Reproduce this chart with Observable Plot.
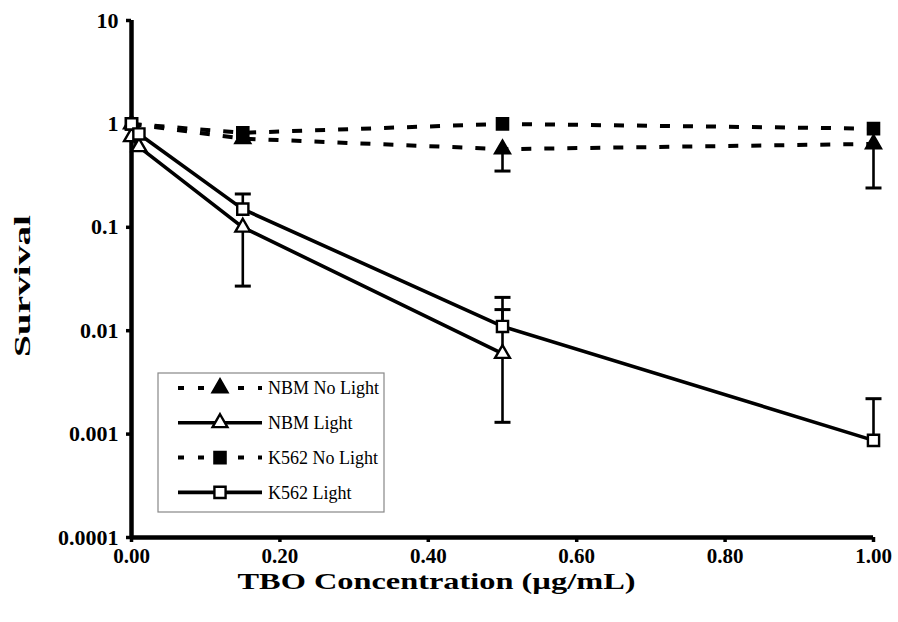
<!DOCTYPE html>
<html><head><meta charset="utf-8">
<script src="https://cdn.jsdelivr.net/npm/d3@7"></script>
<script src="https://cdn.jsdelivr.net/npm/@observablehq/plot@0.6"></script>
<style>body{margin:0;background:#fff} svg{font-family:"Liberation Serif","Times New Roman",serif}</style>
</head><body><div id="chart"></div>
<script>
const xTicks = [0, 0.2, 0.4, 0.6, 0.8, 1.0];
const xTickLabels = ["0.00", "0.20", "0.40", "0.60", "0.80", "1.00"];
const yTicks = [0.0001, 0.001, 0.01, 0.1, 1, 10];
const yTickLabels = ["0.0001", "0.001", "0.01", "0.1", "1", "10"];
const xTitle = "TBO Concentration (\u00b5g/mL)";
const yTitle = "Survival";

const seriesNames = ["NBM No Light", "NBM Light", "K562 No Light", "K562 Light"];
const nbmNoLightX = [0, 0.15, 0.5, 1.0];
const nbmNoLightY = [1.0, 0.72, 0.57, 0.64];
const nbmLightX = [0, 0.01, 0.15, 0.5];
const nbmLightY = [0.75, 0.6, 0.1, 0.006];
const k562NoLightX = [0, 0.15, 0.5, 1.0];
const k562NoLightY = [1.0, 0.82, 1.0, 0.9];
const k562LightX = [0, 0.01, 0.15, 0.5, 1.0];
const k562LightY = [1.0, 0.8, 0.15, 0.011, 0.00087];

// error bars: series, x, point value, end value
const errSeries = ["K562 Light", "NBM Light", "K562 Light", "NBM Light", "NBM Light", "K562 Light", "NBM No Light", "NBM No Light"];
const errX      = [0.15, 0.15, 0.5, 0.5, 0.5, 1.0, 0.5, 1.0];
const errFrom   = [0.15, 0.1, 0.011, 0.006, 0.006, 0.00087, 0.57, 0.64];
const errTo     = [0.21, 0.027, 0.021, 0.016, 0.0013, 0.0022, 0.35, 0.24];

const seriesX = [nbmNoLightX, nbmLightX, k562NoLightX, k562LightX];
const seriesY = [nbmNoLightY, nbmLightY, k562NoLightY, k562LightY];
const seriesDashed = [true, false, true, false];
const seriesSymbol = ["triangle", "triangle", "square", "square"];
const seriesFill = ["black", "white", "black", "white"];
const seriesR = [5.5, 5.5, 6.3, 6.3];

const rows = seriesNames.flatMap((s, i) => seriesX[i].map((x, j) => ({series: s, x, y: seriesY[i][j], idx: i})));
const errs = errSeries.map((s, i) => ({series: s, x: errX[i], from: errFrom[i], to: errTo[i]}));

const cap = {draw(ctx, size) { const r = Math.sqrt(size / Math.PI); ctx.moveTo(-r, 0); ctx.lineTo(r, 0); }};

const marks = [];
seriesNames.forEach((s, i) => {
  marks.push(Plot.line(rows.filter(d => d.series === s), {
    x: "x", y: "y", stroke: "black", strokeWidth: seriesDashed[i] ? 4 : 3.6,
    strokeDasharray: seriesDashed[i] ? "10,13" : null, strokeLinecap: "butt"
  }));
});
marks.push(Plot.ruleX(errs, {x: "x", y1: "from", y2: "to", stroke: "black", strokeWidth: 2.6}));
marks.push(Plot.dot(errs, {x: "x", y: "to", symbol: cap, r: 8, stroke: "black", strokeWidth: 3, fill: "none"}));
marks.push(Plot.ruleX([0], {y1: 0.0001, y2: 10, stroke: "black", strokeWidth: 4.5}));
marks.push(Plot.ruleY([0.0001], {x1: 0, x2: 1, stroke: "black", strokeWidth: 4.5}));
marks.push(Plot.axisY({ticks: yTicks, tickFormat: (d) => yTickLabels[yTicks.indexOf(d)], tickSize: 5, tickPadding: 8, strokeWidth: 3.5, fontSize: 22, fontWeight: "bold", label: null}));
marks.push(Plot.axisX({ticks: xTicks, tickFormat: (d) => xTickLabels[xTicks.indexOf(d)], tickSize: 5, tickPadding: 6, strokeWidth: 3.5, fontSize: 21, fontWeight: "bold", label: null}));
seriesNames.forEach((s, i) => {
  marks.push(Plot.dot(rows.filter(d => d.series === s), {
    x: "x", y: "y", symbol: seriesSymbol[i], r: seriesR[i], fill: seriesFill[i], stroke: "black", strokeWidth: 2.4
  }));
});
marks.push(Plot.text([xTitle], {frameAnchor: "bottom", dx: -66, dy: 44, fontSize: 24, fontWeight: "bold", lineAnchor: "middle", className: "xtitle"}));
marks.push(Plot.text([yTitle], {frameAnchor: "left", textAnchor: "middle", dx: -109, dy: 7, rotate: -90, fontSize: 24, fontWeight: "bold", lineAnchor: "middle", className: "ytitle"}));

const chart = Plot.plot({
  width: 898, height: 622,
  marginLeft: 131, marginRight: 25, marginTop: 20, marginBottom: 85,
  x: {domain: [0, 1]},
  y: {type: "log", domain: [0.0001, 10]},
  style: {fontFamily: "Liberation Serif, Times New Roman, serif", background: "white", color: "black"},
  marks
});
document.getElementById("chart").appendChild(chart);

const svg = d3.select(chart);
// stretch titles to the reference's wide lettering
svg.selectAll(".xtitle text").attr("textLength", 398).attr("lengthAdjust", "spacingAndGlyphs");
svg.selectAll(".ytitle text").attr("textLength", 142).attr("lengthAdjust", "spacingAndGlyphs");

// legend (layout)
const lg = svg.append("g").attr("text-anchor", "start");
const bx = 158, by = 373, bw = 226, bh = 139;
lg.append("rect").attr("x", bx).attr("y", by).attr("width", bw).attr("height", bh)
  .attr("fill", "white").attr("stroke", "#888").attr("stroke-width", 1.2);
seriesNames.forEach((s, i) => {
  const y = by + 15 + i * 34.8;
  lg.append("line").attr("x1", bx + 20).attr("x2", bx + 104).attr("y1", y).attr("y2", y)
    .attr("stroke", "black").attr("stroke-width", seriesDashed[i] ? 4 : 3.6)
    .attr("stroke-dasharray", seriesDashed[i] ? "6,14" : null);
  const sym = seriesSymbol[i] === "triangle" ? d3.symbolTriangle : d3.symbolSquare;
  lg.append("path").attr("d", d3.symbol(sym, Math.PI * seriesR[i] * seriesR[i])())
    .attr("transform", `translate(${bx + 62},${y})`)
    .attr("fill", seriesFill[i]).attr("stroke", "black").attr("stroke-width", 2.4);
  lg.append("text").attr("x", bx + 110).attr("y", y).attr("dy", "0.35em")
    .attr("text-anchor", "start").attr("font-size", 18).attr("fill", "black").text(s);
});
</script></body></html>
